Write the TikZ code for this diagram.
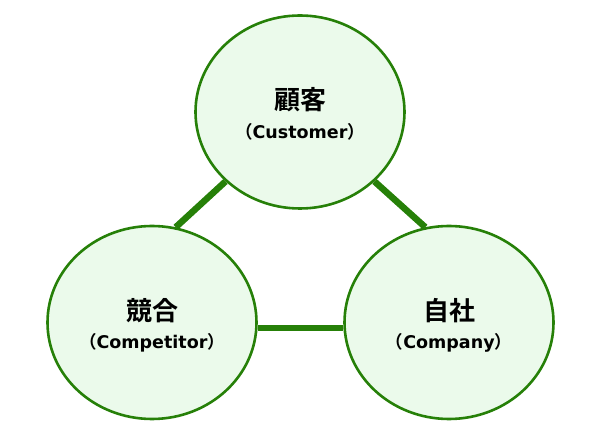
\documentclass[tikz,border=0pt]{standalone}
\usepackage{fontspec}
\setmainfont{DejaVu Sans}
\newfontfamily\jpfont{Noto Sans CJK JP}[BoldFont={Noto Sans CJK JP Bold}]
\usetikzlibrary{shapes.geometric,backgrounds}

\begin{document}
\begin{tikzpicture}[x=1pt,y=1pt]

% ------------------------------------------------ 3C theme colors
\definecolor{cc_green}{RGB}{38,128,8}     %#268008
\definecolor{cc_light}{RGB}{235,250,235}  %#EBFAEB

\tikzset{
  circ/.style={ellipse,draw=cc_green,line width=2.6pt,fill=cc_light,
    minimum width=209pt,minimum height=193pt,inner sep=0pt},
  jp/.style={font=\jpfont\bfseries\fontsize{26}{28}\selectfont},
  en/.style={font=\bfseries\fontsize{17.5}{20}\selectfont},
  link/.style={line width=6.5pt,color=cc_green}
}

\useasboundingbox (0,0) rectangle (600,436);

\node[circ] (customer)   at (300,324)   {};
\node[circ] (competitor) at (152,113.5) {};
\node[circ] (company)    at (449,113.5) {};

\node[jp] (customer_jp)   at ([yshift=12pt]customer)   {顧客};
\node[en] (customer_en)   at ([yshift=-20pt]customer)  {{\jpfont （}Customer{\jpfont ）}};
\node[jp] (competitor_jp) at ([yshift=12pt]competitor) {競合};
\node[en] (competitor_en) at ([yshift=-20pt]competitor){{\jpfont （}Competitor{\jpfont ）}};
\node[jp] (company_jp)    at ([yshift=12pt]company)    {自社};
\node[en] (company_en)    at ([yshift=-20pt]company)   {{\jpfont （}Company{\jpfont ）}};

\begin{scope}[on background layer]
\draw[link] (customer.223) -- (competitor.76);
\draw[link] (customer.317) -- (company.104);
\draw[link] (competitor.-3.5) -- (company.183.5);
\end{scope}

\end{tikzpicture}
\end{document}
